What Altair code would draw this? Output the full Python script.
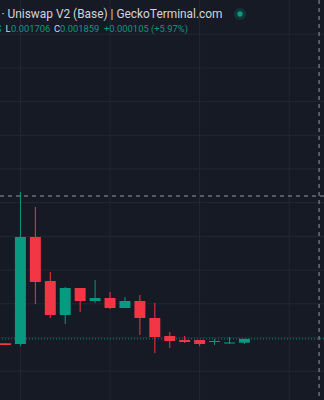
import altair as alt
import pandas as pd

# candle index, OHLC (price units)
idx    = list(range(17))
opens  = [0.001728, 0.001707, 0.004882, 0.003576, 0.002568, 0.003369, 0.002983, 0.003072,
          0.002775, 0.002983, 0.002479, 0.001945, 0.001826, 0.001826, 0.001766, 0.001722, 0.001746]
highs  = [0.001728, 0.006217, 0.005772, 0.003843, 0.003398, 0.003369, 0.003606, 0.003250,
          0.003102, 0.003161, 0.002924, 0.002063, 0.001945, 0.001826, 0.001856, 0.001915, 0.001859]
lows   = [0.001677, 0.001648, 0.002894, 0.002479, 0.002301, 0.002657, 0.002924, 0.002746,
          0.002775, 0.001974, 0.001440, 0.001588, 0.001737, 0.001648, 0.001677, 0.001707, 0.001706]
closes = [0.001677, 0.004882, 0.003547, 0.002568, 0.003369, 0.002983, 0.003072, 0.002775,
          0.002983, 0.002479, 0.001915, 0.001796, 0.001766, 0.001707, 0.001796, 0.001754, 0.001859]

grid_prices = [0.0009, 0.0019, 0.0029, 0.0039, 0.0049, 0.0059, 0.0069, 0.0079, 0.0089, 0.0099, 0.0109]
grid_idx = [1, 7, 13, 19]
crosshair_idx = [21]
crosshair_price = [0.006098]
last_close = [0.001859]

GREEN = "#089981"
RED = "#f23645"
BG = "#161a25"
GRID = "#232733"

df = pd.DataFrame({"i": idx, "o": opens, "h": highs, "l": lows, "c": closes})
df["dir"] = ["up" if c >= o else "down" for o, c in zip(opens, closes)]

xs = alt.Scale(domain=[-0.3684, 21.33], nice=False, zero=False)
ys = alt.Scale(domain=[0.0000456, 0.011914], nice=False, zero=False)
col = alt.Color("dir:N", scale=alt.Scale(domain=["up", "down"], range=[GREEN, RED]), legend=None)

W, H = 324, 400

hgrid = alt.Chart(pd.DataFrame({"p": grid_prices})).mark_rule(color=GRID, strokeWidth=1).encode(
    y=alt.Y("p:Q", scale=ys, axis=None))
vgrid = alt.Chart(pd.DataFrame({"i": grid_idx})).mark_rule(color=GRID, strokeWidth=1).encode(
    x=alt.X("i:Q", scale=xs, axis=None))

wicks = alt.Chart(df).mark_rule(strokeWidth=1).encode(
    x=alt.X("i:Q", scale=xs, axis=None),
    y=alt.Y("l:Q", scale=ys, axis=None), y2="h:Q", color=col)

bodies = alt.Chart(df).transform_calculate(
    xl="datum.i - 0.368", xr="datum.i + 0.368"
).mark_rect(minBandSize=1).encode(
    x=alt.X("xl:Q", scale=xs, axis=None), x2="xr:Q",
    y=alt.Y("o:Q", scale=ys, axis=None), y2="c:Q", color=col)

price_line = alt.Chart(pd.DataFrame({"p": last_close})).mark_rule(
    color=GREEN, strokeWidth=1, strokeDash=[1, 2], opacity=0.9).encode(
    y=alt.Y("p:Q", scale=ys, axis=None))

cross_h = alt.Chart(pd.DataFrame({"p": crosshair_price})).mark_rule(
    color="#9598a1", strokeWidth=1, strokeDash=[4, 4]).encode(
    y=alt.Y("p:Q", scale=ys, axis=None))
cross_v = alt.Chart(pd.DataFrame({"i": crosshair_idx})).mark_rule(
    color="#9598a1", strokeWidth=1, strokeDash=[4, 4]).encode(
    x=alt.X("i:Q", scale=xs, axis=None))

FONT = "Roboto"
title = alt.Chart(pd.DataFrame({"t": ["· Uniswap V2 (Base) | GeckoTerminal.com"]})).mark_text(
    align="left", baseline="middle", font=FONT, fontSize=11.9, color="#d1d4dc").encode(
    x=alt.value(1.5), y=alt.value(14), text="t:N")

halo = alt.Chart(pd.DataFrame({"a": [1]})).mark_point(
    filled=True, size=150, color=GREEN, opacity=0.2).encode(x=alt.value(240), y=alt.value(14))
dot = alt.Chart(pd.DataFrame({"a": [1]})).mark_point(
    filled=True, size=28, color=GREEN, opacity=1).encode(x=alt.value(240), y=alt.value(14))

lab_text = ["S", "L", "0.001706", "C", "0.001859", "+0.000105 (+5.97%)"]
lab_x = [-4, 5.5, 11, 54, 60, 104]
lab_col = [GREEN, "#d1d4dc", GREEN, "#d1d4dc", GREEN, GREEN]
labels = alt.Chart(pd.DataFrame({"t": lab_text, "x": lab_x, "c": lab_col})).mark_text(
    align="left", baseline="middle", font=FONT, fontSize=9.4).encode(
    x=alt.X("x:Q", scale=None), y=alt.value(28.5), text="t:N",
    color=alt.Color("c:N", scale=None))

chart = alt.layer(hgrid, vgrid, price_line, cross_h, cross_v, wicks, bodies,
                  title, halo, dot, labels).properties(
    width=W, height=H, background=BG, padding=0,
    autosize=alt.AutoSizeParams(type="none")
).configure_view(strokeWidth=0, fill=BG)

chart.save("out.html", embed_options={"renderer": "svg", "actions": False})
